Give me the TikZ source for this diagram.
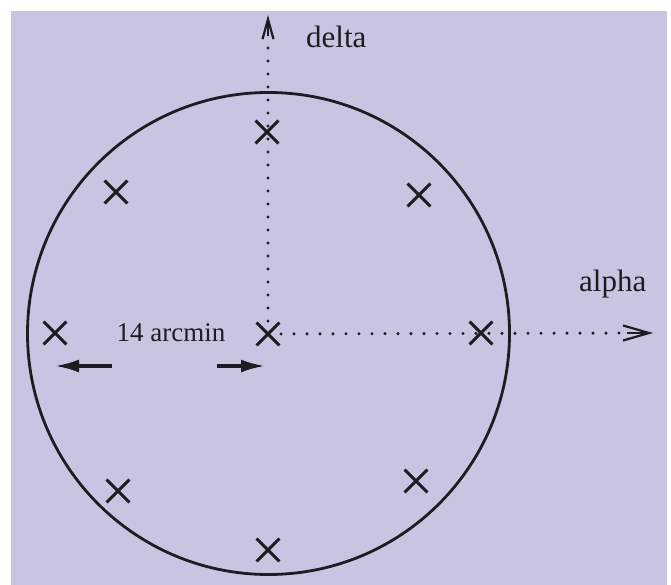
\documentclass[tikz,border=0pt]{standalone}
\usepackage{fontspec}
\setmainfont{Liberation Serif}
\usetikzlibrary{shapes.misc,arrows.meta}
\definecolor{bgcol}{RGB}{200,197,226}
\definecolor{ink}{RGB}{30,28,32}
\tikzset{
  xmark/.style={cross out,draw=ink,line width=2.9pt,minimum size=20pt,inner sep=0pt},
  axis/.style={draw=ink,line width=3.4pt,line cap=round,dash pattern=on 0pt off 13pt},
  lbl/.style={font=\fontsize{31}{33}\selectfont,text=ink,inner sep=0pt},
  meas/.style={draw=ink,line width=3.2pt,-{Latex[length=24pt,width=13pt]}}
}
\begin{document}
\begin{tikzpicture}[x=1pt,y=-1pt]
\useasboundingbox (0,0) rectangle (671,585);
\fill[bgcol] (11,11) rectangle (667,585);
\node[circle,draw=ink,line width=2.8pt,minimum size=482pt,inner sep=0pt] (ring) at (268.5,333.5) {};
\node[xmark] (c) at (268,334) {};
\node[xmark] (n) at (267,132) {};
\node[xmark] (nw) at (116,192) {};
\node[xmark] (ne) at (419,195) {};
\node[xmark] (w) at (55,333) {};
\node[xmark] (e) at (481,333) {};
\node[xmark] (sw) at (118,491) {};
\node[xmark] (se) at (416,481) {};
\node[xmark] (s) at (268,550) {};
\coordinate (ytip) at (268,15);
\coordinate (xtip) at (653,333);
\draw[axis] (c.center) -- (268,40);
\draw[axis] (c.center) -- (628,333);
\draw[draw=ink,line width=2.2pt,-{Straight Barb[length=20pt,width=11pt]}] (268,36) -- (ytip);
\draw[draw=ink,line width=2.2pt,-{Straight Barb[length=26pt,width=15pt]}] (627,333) -- (xtip);
\node[lbl,anchor=west] (delta) at (306,37) {delta};
\node[lbl,anchor=west] (alpha) at (579,284) {alpha};
\node[lbl,font=\fontsize{27}{29}\selectfont] (arc) at (171,333) {14 arcmin};
\coordinate (l0) at (112,366);
\coordinate (l1) at (55,366);
\coordinate (r0) at (217,366);
\coordinate (r1) at (265,366);
\draw[meas] (l0) -- (l1);
\draw[meas] (r0) -- (r1);
\end{tikzpicture}
\end{document}
